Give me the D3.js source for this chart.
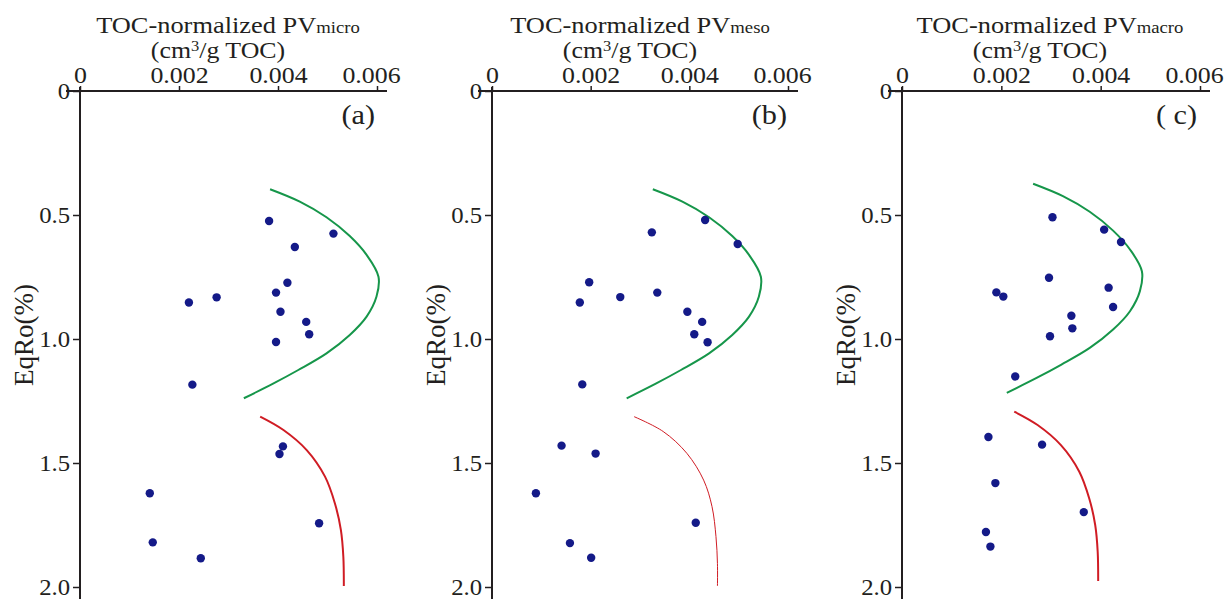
<!DOCTYPE html>
<html>
<head>
<meta charset="utf-8">
<script src="https://cdn.jsdelivr.net/npm/d3@7"></script>
<style>
  html, body { margin: 0; padding: 0; background: #fff; }
  svg { display: block; }
  text { font-family: "Liberation Serif", "Times New Roman", serif; fill: #231f20; }
</style>
</head>
<body>
<svg id="chart" width="1228" height="599"></svg>
<script>
// ---------------- data ----------------
const xTicks = [0, 0.002, 0.004, 0.006];
const yTicks = [0, 0.5, 1.0, 1.5, 2.0];
const panelLabels = ["(a)", "(b)", "( c)"];
const poreTypes = ["micro", "meso", "macro"];

// Panel (a) micropores
const eqRoA = [0.524,0.575,0.629,0.773,0.813,0.832,0.853,0.890,0.931,0.981,1.012,1.184,1.433,1.464,1.622,1.743,1.820,1.884];
const pvMicro = [0.00382,0.00512,0.00434,0.00419,0.00396,0.00276,0.00220,0.00405,0.00457,0.00463,0.00396,0.00227,0.00410,0.00403,0.00141,0.00483,0.00147,0.00244];
// Panel (b) mesopores
const eqRoB = [0.520,0.570,0.617,0.771,0.813,0.831,0.853,0.890,0.931,0.981,1.013,1.183,1.430,1.462,1.622,1.741,1.823,1.882];
const pvMeso = [0.00432,0.00324,0.00498,0.00197,0.00335,0.00260,0.00178,0.00396,0.00426,0.00410,0.00437,0.00183,0.00141,0.00210,0.00089,0.00413,0.00158,0.00201];
// Panel (c) macropores
const eqRoC = [0.509,0.559,0.609,0.753,0.793,0.812,0.829,0.871,0.906,0.957,0.989,1.151,1.395,1.426,1.581,1.698,1.778,1.837];
const pvMacro = [0.00303,0.00407,0.00441,0.00296,0.00416,0.00190,0.00204,0.00425,0.00341,0.00343,0.00298,0.00228,0.00174,0.00282,0.00188,0.00366,0.00169,0.00178];

// Trend curves (green: upper, red: lower)
const greenA_x = [0.00384,0.00444,0.00498,0.00545,0.00579,0.00603,0.00599,0.00579,0.00545,0.00498,0.00441,0.00391,0.00331];
const greenA_y = [0.396,0.446,0.509,0.585,0.661,0.749,0.829,0.910,0.984,1.058,1.125,1.179,1.239];
const greenB_x = [0.00326,0.00386,0.00440,0.00487,0.00521,0.00545,0.00541,0.00521,0.00487,0.00440,0.00383,0.00333,0.00273];
const greenB_y = [0.396,0.446,0.509,0.585,0.661,0.749,0.829,0.910,0.984,1.058,1.125,1.179,1.239];
const greenC_x = [0.00264,0.00324,0.00378,0.00425,0.00459,0.00483,0.00479,0.00459,0.00425,0.00378,0.00321,0.00271,0.00211];
const greenC_y = [0.374,0.424,0.487,0.563,0.639,0.727,0.807,0.888,0.962,1.036,1.103,1.157,1.217];

const redA_x = [0.00364,0.00411,0.00458,0.00495,0.00515,0.00527,0.00532,0.00533];
const redA_y = [1.313,1.367,1.448,1.555,1.663,1.770,1.878,1.996];
const redB_x = [0.00288,0.00347,0.00395,0.00429,0.00446,0.00454,0.00457,0.00457];
const redB_y = [1.313,1.373,1.461,1.569,1.676,1.797,1.905,1.996];
const redC_x = [0.00226,0.00273,0.00320,0.00357,0.00377,0.00389,0.00394,0.00395];
const redC_y = [1.293,1.347,1.428,1.535,1.643,1.750,1.858,1.976];

// ---------------- drawing ----------------
const svg = d3.select("#chart");
const INK = "#231f20";
const DOT = "#141a88";
const GREEN = "#16964a";
const RED = "#d01c24";

const panels = [
  {x0: 80,  x1: 377,  px: pvMicro, py: eqRoA, gx: greenA_x, gy: greenA_y, rx: redA_x, ry: redA_y, redW: 2},
  {x0: 492, x1: 788,  px: pvMeso,  py: eqRoB, gx: greenB_x, gy: greenB_y, rx: redB_x, ry: redB_y, redW: 1},
  {x0: 902, x1: 1200, px: pvMacro, py: eqRoC, gx: greenC_x, gy: greenC_y, rx: redC_x, ry: redC_y, redW: 2}
];

const y = d3.scaleLinear().domain([0, 2]).range([91, 587]);

panels.forEach((p, i) => {
  const x = d3.scaleLinear().domain([0, 0.006]).range([p.x0, p.x1]);
  const g = svg.append("g");

  // axis lines
  g.append("line").attr("x1", p.x0 - 14).attr("x2", p.x1 + 10)
    .attr("y1", y(0)).attr("y2", y(0)).attr("stroke", INK).attr("stroke-width", 2);
  g.append("line").attr("x1", p.x0).attr("x2", p.x0)
    .attr("y1", y(0) - 4).attr("y2", 599).attr("stroke", INK).attr("stroke-width", 2);

  // top x axis
  const xa = g.append("g").attr("transform", `translate(0,${y(0)})`)
    .call(d3.axisTop(x).tickValues(xTicks)
      .tickFormat(d => d === 0 ? "0" : d3.format(".3f")(d))
      .tickSizeInner(5).tickSizeOuter(0).tickPadding(3));
  xa.select(".domain").remove();
  xa.selectAll(".tick line").attr("stroke", INK).attr("stroke-width", 1.5);
  xa.selectAll(".tick text").attr("font-size", 22.5).attr("fill", INK)
    .attr("transform", d => d === 0.006 ? "translate(-6,0) scale(1.15,1)" : "scale(1.15,1)");

  // left y axis
  const ya = g.append("g").attr("transform", `translate(${p.x0},0)`)
    .call(d3.axisLeft(y).tickValues(yTicks)
      .tickFormat(d => d === 0 ? "0" : d3.format(".1f")(d))
      .tickSizeInner(7).tickSizeOuter(0).tickPadding(2));
  ya.select(".domain").remove();
  ya.selectAll(".tick line").attr("stroke", INK).attr("stroke-width", 1.5);
  ya.selectAll(".tick text").attr("font-size", 22.5).attr("fill", INK)
    .attr("transform", "scale(1.1,1)");

  // titles
  const t1 = g.append("text").attr("text-anchor", "middle")
    .attr("transform", `translate(${p.x0 + 148},33) scale(1.1,1)`)
    .attr("font-size", 24);
  t1.append("tspan").text("TOC-normalized PV");
  t1.append("tspan").attr("font-size", 17).text(poreTypes[i]);

  const t2 = g.append("text").attr("text-anchor", "middle")
    .attr("transform", `translate(${p.x0 + 138},58) scale(1.1,1)`)
    .attr("font-size", 23.5);
  t2.append("tspan").text("(cm");
  t2.append("tspan").attr("font-size", 15).attr("dy", -7).text("3");
  t2.append("tspan").attr("dy", 7).text("/g TOC)");

  // y label
  g.append("text").attr("text-anchor", "middle")
    .attr("transform", `translate(${p.x0 - 47},335) rotate(-90)`)
    .attr("font-size", 27).text("EqRo(%)");

  // panel label
  g.append("text").attr("text-anchor", "end")
    .attr("transform", `translate(${p.x0 + 295},124) scale(1.08,1)`)
    .attr("font-size", 28).text(panelLabels[i]);

  // curves
  const line = d3.line().x(d => x(d[0])).y(d => y(d[1])).curve(d3.curveCatmullRom);
  g.append("path").datum(p.gx.map((v, k) => [v, p.gy[k]]))
    .attr("d", line).attr("fill", "none").attr("stroke", GREEN).attr("stroke-width", 2);
  g.append("path").datum(p.rx.map((v, k) => [v, p.ry[k]]))
    .attr("d", line).attr("fill", "none").attr("stroke", RED).attr("stroke-width", p.redW);

  // points
  g.selectAll("circle.pt").data(p.px.map((v, k) => [v, p.py[k]])).enter()
    .append("circle").attr("class", "pt")
    .attr("cx", d => x(d[0])).attr("cy", d => y(d[1])).attr("r", 4.2)
    .attr("fill", DOT);
});
</script>
</body>
</html>
